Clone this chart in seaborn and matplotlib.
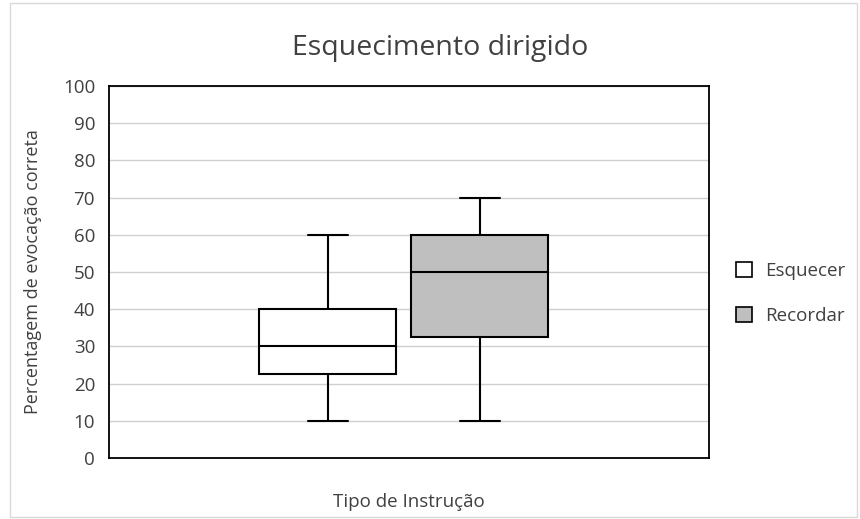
import matplotlib
matplotlib.use("Agg")
import matplotlib.pyplot as plt
import seaborn as sns
import pandas as pd
from matplotlib.patches import Patch, Rectangle

# Five-number summaries (min, Q1, median, Q3, max) per instruction type
esquecer = [10, 22.5, 30, 40, 60]
recordar = [10, 32.5, 50, 60, 70]
categorias = ["Esquecer", "Recordar"]
cores = ["#ffffff", "#bfbfbf"]
yticks = list(range(0, 101, 10))

df = pd.DataFrame({
    "Tipo": [categorias[0]] * len(esquecer) + [categorias[1]] * len(recordar),
    "Valor": esquecer + recordar,
})

sns.set_theme(style="white")
plt.rcParams["font.family"] = ["Open Sans", "DejaVu Sans"]
txt = "#404040"

fig = plt.figure(figsize=(8.6, 5.19), dpi=100)
ax = fig.add_axes([0.1267, 0.1175, 0.6977, 0.7168])

sns.boxplot(
    data=df, x="Tipo", y="Valor", hue="Tipo", palette=cores,
    order=categorias, hue_order=categorias, dodge=False,
    whis=(0, 100), width=0.9, linewidth=1.5, linecolor="black",
    legend=False, ax=ax,
)

# shrink whisker caps
ends = {esquecer[0], esquecer[-1], recordar[0], recordar[-1]}
for line in ax.lines:
    xs = line.get_xdata()
    ys = line.get_ydata()
    if len(xs) == 2 and ys[0] == ys[1] and abs(xs[1] - xs[0]) < 0.5 and ys[0] in ends:
        c = (xs[0] + xs[1]) / 2
        line.set_xdata([c - 0.13, c + 0.13])

ax.set_xlim(-1.44, 2.507)
ax.set_ylim(0, 100)
ax.set_yticks(yticks)
ax.set_yticklabels([str(v) for v in yticks], fontsize=13.5, color=txt)
ax.set_xticks([])
ax.yaxis.grid(True, color="#d0d0d0", linewidth=1)
ax.set_axisbelow(True)
for s in ax.spines.values():
    s.set_visible(True)
    s.set_color("black")
    s.set_linewidth(1.3)
ax.tick_params(axis="y", length=0, pad=10)

ax.set_xlabel("Tipo de Instrução", fontsize=13.5, color=txt, labelpad=25)
ax.set_ylabel("Percentagem de evocação correta", fontsize=13, color=txt, labelpad=15)
fig.suptitle("Esquecimento dirigido", fontsize=20.5, color=txt, x=0.512, y=0.935)

handles = [Patch(facecolor=c, edgecolor="black", linewidth=1.2, label=l)
           for c, l in zip(cores, categorias)]
fig.legend(handles=handles, loc="center left", bbox_to_anchor=(0.836, 0.435),
           frameon=False, fontsize=13.5, handlelength=0.85, handleheight=0.85,
           handletextpad=0.7, labelspacing=1.45, labelcolor=txt)

# light outer border of the chart area
fig.patches.append(Rectangle((0.012, 0.004), 0.985, 0.99, transform=fig.transFigure,
                             fill=False, edgecolor="#d9d9d9", linewidth=1))

fig.savefig("out.png", dpi=100)
